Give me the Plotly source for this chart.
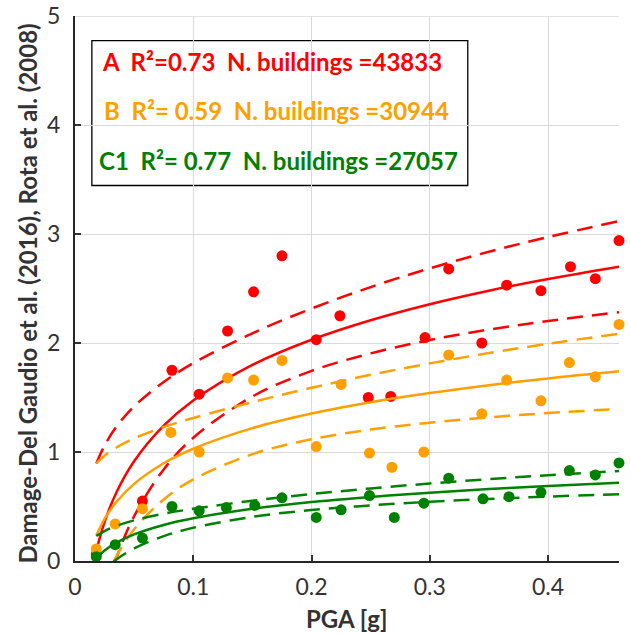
import plotly.graph_objects as go

# ---- observed data points (PGA [g], damage) ----
pga_A = [0.018, 0.057, 0.082, 0.105, 0.129, 0.151, 0.175, 0.204, 0.224, 0.248, 0.267, 0.296, 0.316, 0.344, 0.365, 0.394, 0.419, 0.44, 0.46]
dmg_A = [0.06, 0.55, 1.75, 1.53, 2.11, 2.47, 2.80, 2.03, 2.25, 1.50, 1.51, 2.05, 2.68, 2.00, 2.53, 2.48, 2.70, 2.59, 2.94]

pga_B = [0.018, 0.034, 0.057, 0.081, 0.105, 0.129, 0.151, 0.175, 0.204, 0.225, 0.249, 0.268, 0.295, 0.316, 0.344, 0.365, 0.394, 0.418, 0.44, 0.46]
dmg_B = [0.11, 0.34, 0.48, 1.18, 1.00, 1.68, 1.66, 1.84, 1.05, 1.62, 0.99, 0.86, 1.00, 1.89, 1.35, 1.66, 1.47, 1.82, 1.69, 2.17]

pga_C1 = [0.018, 0.034, 0.057, 0.082, 0.105, 0.128, 0.152, 0.175, 0.204, 0.225, 0.249, 0.27, 0.295, 0.316, 0.345, 0.367, 0.394, 0.418, 0.44, 0.46]
dmg_C1 = [0.04, 0.15, 0.21, 0.50, 0.46, 0.49, 0.51, 0.58, 0.40, 0.47, 0.60, 0.40, 0.53, 0.76, 0.57, 0.59, 0.63, 0.83, 0.79, 0.90]

# ---- fitted curves and confidence bands ----
pga_fit = [0.018, 0.025, 0.035, 0.05, 0.075, 0.1, 0.15, 0.2, 0.25, 0.3, 0.35, 0.4, 0.46]

fit_A = [0.094, 0.358, 0.629, 0.915, 1.241, 1.473, 1.799, 2.030, 2.209, 2.356, 2.480, 2.587, 2.700]
up_A = [0.894, 1.059, 1.232, 1.419, 1.642, 1.815, 2.089, 2.316, 2.513, 2.685, 2.837, 2.972, 3.118]
lo_A = [-0.706, -0.343, 0.026, 0.411, 0.840, 1.131, 1.509, 1.744, 1.905, 2.027, 2.123, 2.202, 2.282]

fit_B = [0.233, 0.386, 0.542, 0.708, 0.897, 1.030, 1.219, 1.353, 1.457, 1.541, 1.613, 1.675, 1.740]
up_B = [0.895, 0.966, 1.041, 1.125, 1.229, 1.312, 1.458, 1.589, 1.708, 1.813, 1.908, 1.993, 2.085]
lo_B = [-0.429, -0.194, 0.043, 0.291, 0.565, 0.748, 0.980, 1.117, 1.206, 1.269, 1.318, 1.357, 1.395]

fit_C1 = [0.025, 0.096, 0.168, 0.244, 0.331, 0.392, 0.479, 0.541, 0.588, 0.627, 0.660, 0.689, 0.719]
up_C1 = [0.230, 0.275, 0.322, 0.373, 0.434, 0.479, 0.553, 0.614, 0.666, 0.711, 0.751, 0.787, 0.826]
lo_C1 = [-0.180, -0.083, 0.014, 0.115, 0.228, 0.305, 0.405, 0.468, 0.510, 0.543, 0.569, 0.591, 0.612]

x_ticks = [0, 0.1, 0.2, 0.3, 0.4]
y_ticks = [0, 1, 2, 3, 4, 5]

labels = ["A  R²=0.73  N. buildings =43833",
          "B  R²= 0.59  N. buildings =30944",
          "C1  R²= 0.77  N. buildings =27057"]

x_title = "PGA [g]"
y_title = "Damage-Del Gaudio et al. (2016), Rota et al. (2008)"

RED, ORANGE, GREEN = "#FF0000", "#FF9F00", "#008000"
DASH = "16px,9px"
FONT = "Lato"
TXT = "#333333"
GRID = "#D9D9D9"

fig = go.Figure()

series = [
    (pga_A, dmg_A, fit_A, up_A, lo_A, RED),
    (pga_B, dmg_B, fit_B, up_B, lo_B, ORANGE),
    (pga_C1, dmg_C1, fit_C1, up_C1, lo_C1, GREEN),
]

for px, dy, fit, up, lo, col in series:
    fig.add_trace(go.Scatter(x=pga_fit, y=fit, mode="lines",
                             line=dict(color=col, width=2.5, shape="spline"),
                             hoverinfo="skip", showlegend=False))
    for band in (up, lo):
        fig.add_trace(go.Scatter(x=pga_fit, y=band, mode="lines",
                                 line=dict(color=col, width=2.5, dash=DASH, shape="spline"),
                                 hoverinfo="skip", showlegend=False))
    fig.add_trace(go.Scatter(x=px, y=dy, mode="markers",
                             marker=dict(color=col, size=11),
                             showlegend=False, cliponaxis=False))

# top grid line (plotly omits the grid line lying on the range edge)
fig.add_shape(type="line", xref="paper", yref="y", x0=0, x1=1, y0=y_ticks[-1], y1=y_ticks[-1],
              line=dict(color=GRID, width=1.3), layer="below")

# text box
fig.add_shape(type="rect", xref="paper", yref="paper",
              x0=0.031, x1=0.722, y0=0.689, y1=0.955,
              line=dict(color="black", width=1.3), fillcolor="white", layer="below")

label_y = [0.917, 0.826, 0.734]
label_x = [0.046, 0.049, 0.040]
for txt, col, yy, xx in zip(labels, [RED, ORANGE, GREEN], label_y, label_x):
    fig.add_annotation(text="<b>" + txt + "</b>", xref="paper", yref="paper",
                       x=xx, y=yy, xanchor="left", yanchor="middle", showarrow=False,
                       font=dict(family=FONT, size=24, color=col))

# axis titles
fig.add_annotation(text="<b>" + x_title + "</b>", xref="paper", yref="paper",
                   x=0.5, y=-0.105, xanchor="center", yanchor="middle", showarrow=False,
                   font=dict(family=FONT, size=24, color=TXT))
fig.add_annotation(text="<b>" + y_title + "</b>", xref="paper", yref="paper",
                   x=-0.087, y=0.49, xanchor="center", yanchor="middle", showarrow=False,
                   textangle=-90, font=dict(family=FONT, size=24, color=TXT))

axis_common = dict(showgrid=True, gridcolor=GRID, gridwidth=1.3,
                   ticks="inside", ticklen=6, tickwidth=1.5, tickcolor="#333333",
                   showline=True, linecolor="#262626", linewidth=2,
                   tickfont=dict(family=FONT, size=23, color=TXT),
                   zeroline=False, mirror=False, automargin=False,
                   ticklabeloverflow="allow")

fig.update_xaxes(range=[0, 0.46], tickvals=x_ticks, ticktext=[str(t) for t in x_ticks],
                 ticklabelstandoff=4, **axis_common)
fig.update_yaxes(range=[0, 5], tickvals=y_ticks, ticktext=[str(t) for t in y_ticks],
                 ticklabelstandoff=8, **axis_common)

fig.update_layout(width=630, height=634, plot_bgcolor="white", paper_bgcolor="white",
                  margin=dict(l=75, r=11, t=16, b=73))

# remove the browser's default 8px body margin so the figure fills the window
fig.write_html("out.html", config={"displayModeBar": False},
               post_script="document.body.style.margin='0px';")
